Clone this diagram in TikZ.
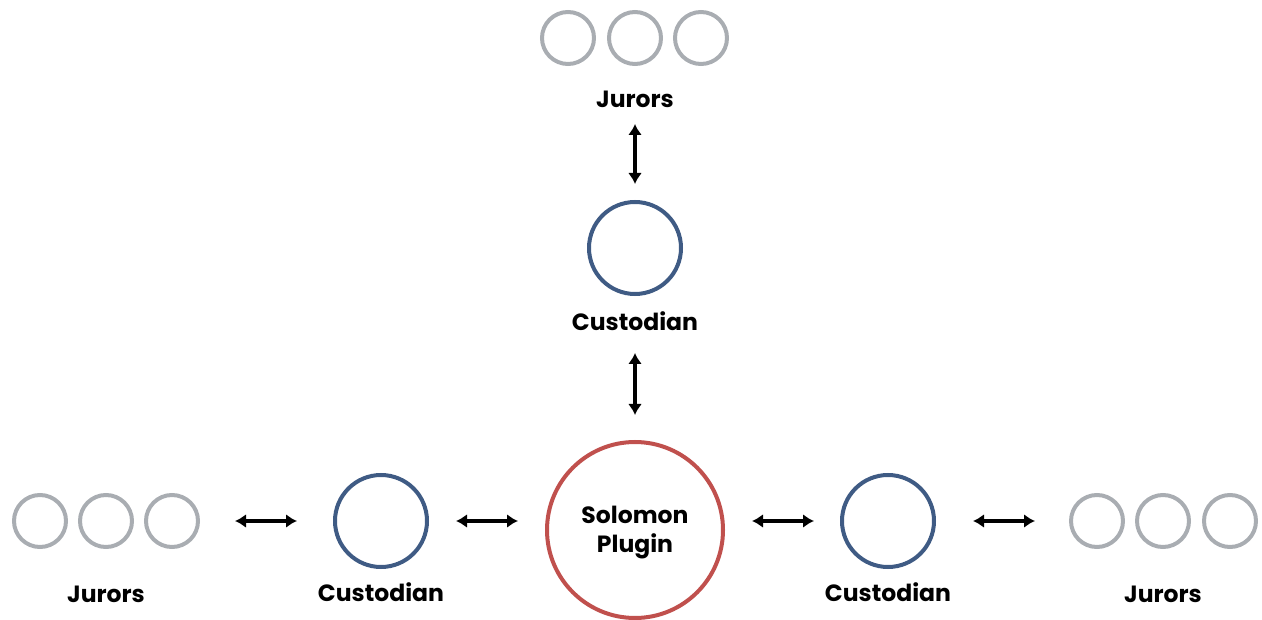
\documentclass[tikz,border=0pt]{standalone}
\usepackage{fontspec}
\setmainfont{Poppins}[BoldFont={Poppins Bold}]
\usepackage{xcolor}
\usepackage{tikz}
\usetikzlibrary{positioning}
\usetikzlibrary{arrows.meta}
\definecolor{jurgray}{HTML}{A9ADB2}
\definecolor{custblue}{HTML}{3F5B84}
\definecolor{plugred}{HTML}{C0504D}
\tikzset{link/.style={draw, line width=3.2pt, {Latex[length=11pt,width=14pt]}-{Latex[length=11pt,width=14pt]}}}

\begin{document}
\begin{tikzpicture}[x=1pt, y=-1pt,
  juror/.style={circle, draw=jurgray, line width=4pt, inner sep=0pt,
  minimum size=52pt},
  keeper/.style={circle, draw=custblue, line width=4pt, inner sep=0pt,
  minimum size=92pt},
  plugin/.style={circle, draw=plugred, line width=4pt, inner sep=0pt,
  minimum size=176pt},
  tag/.style={font=\fontsize{23.5}{29}\selectfont\bfseries, inner sep=0pt}]
  \useasboundingbox (0,0) rectangle (1262,620);
  %% Jurors on top
  \node [juror] (J_t1) at (568,38) {};
  \node [juror] (J_t2) at (635,38) {};
  \node [juror] (J_t3) at (701,38) {};
  \node [tag] (J_t_lbl) at (635,99) {Jurors};
  %%
  \node [keeper] (C_t) at (635,248) {};
  \node [tag] (C_t_lbl) at (635,321) {Custodian};
  %%
  \node [plugin] (SP) at (635,530) {};
  \node [tag, align=center] (SP_lbl) at ([yshift=-3pt]SP.center) {Solomon\\Plugin};
  %%
  \node [keeper] (C_l) at (381,521) {};
  \node [tag] (C_l_lbl) at (381,592) {Custodian};
  \node [keeper] (C_r) at (888,521) {};
  \node [tag] (C_r_lbl) at (888,592) {Custodian};
  %% Jurors left and right
  \node [juror] (J_l1) at (40,521) {};
  \node [juror] (J_l2) at (106,521) {};
  \node [juror] (J_l3) at (172,521) {};
  \node [tag] (J_l_lbl) at (106,594) {Jurors};
  \node [juror] (J_r1) at (1097,521) {};
  \node [juror] (J_r2) at (1163,521) {};
  \node [juror] (J_r3) at (1230,521) {};
  \node [tag] (J_r_lbl) at (1163,594) {Jurors};
  %% Arrows
  \path [link, shorten <=58pt, shorten >=16pt] (J_t2) to (C_t);
  \path [link, shorten <=57pt, shorten >=25pt] (C_t) to (SP);
  \path [link, shorten <=35pt, shorten >=36pt] (J_l3.east) to (C_l.west);
  \path [link, shorten <=27pt, shorten >=27pt] (C_l.east) to (SP.west |- C_l.east);
  \path [link, shorten <=27pt, shorten >=26pt] (SP.east |- C_r.west) to (C_r.west);
  \path [link, shorten <=37pt, shorten >=34pt] (C_r.east) to (J_r1.west);
\end{tikzpicture}
\end{document}
